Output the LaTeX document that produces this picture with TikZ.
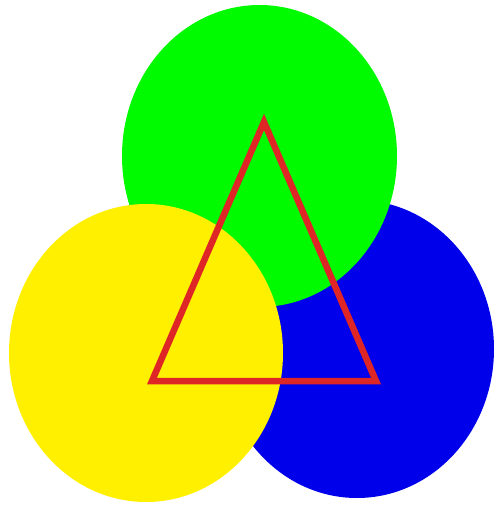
\documentclass[tikz,border=0pt]{standalone}
\definecolor{cgreen}{RGB}{0,250,0}
\definecolor{cblue}{RGB}{0,0,235}
\definecolor{cyellow}{RGB}{255,240,0}
\definecolor{cred}{RGB}{222,38,38}
\tikzset{disk/.style={draw=none},tri/.style={draw=cred,line width=6.5pt,line join=miter}}
\begin{document}
\begin{tikzpicture}[x=1pt,y=-1pt]
\useasboundingbox[fill=white] (0,0) rectangle (495,512);
\fill[cblue,disk] (357,349) ellipse [x radius=137,y radius=149];
\fill[cgreen,disk] (259.5,156) ellipse [x radius=137.5,y radius=151];
\fill[cyellow,disk] (146,353) ellipse [x radius=137,y radius=149];
\coordinate (A) at (264,122);
\coordinate (B) at (152,381);
\coordinate (C) at (376,381);
\draw[tri] (A) -- (B) -- (C) -- cycle;
\end{tikzpicture}
\end{document}
